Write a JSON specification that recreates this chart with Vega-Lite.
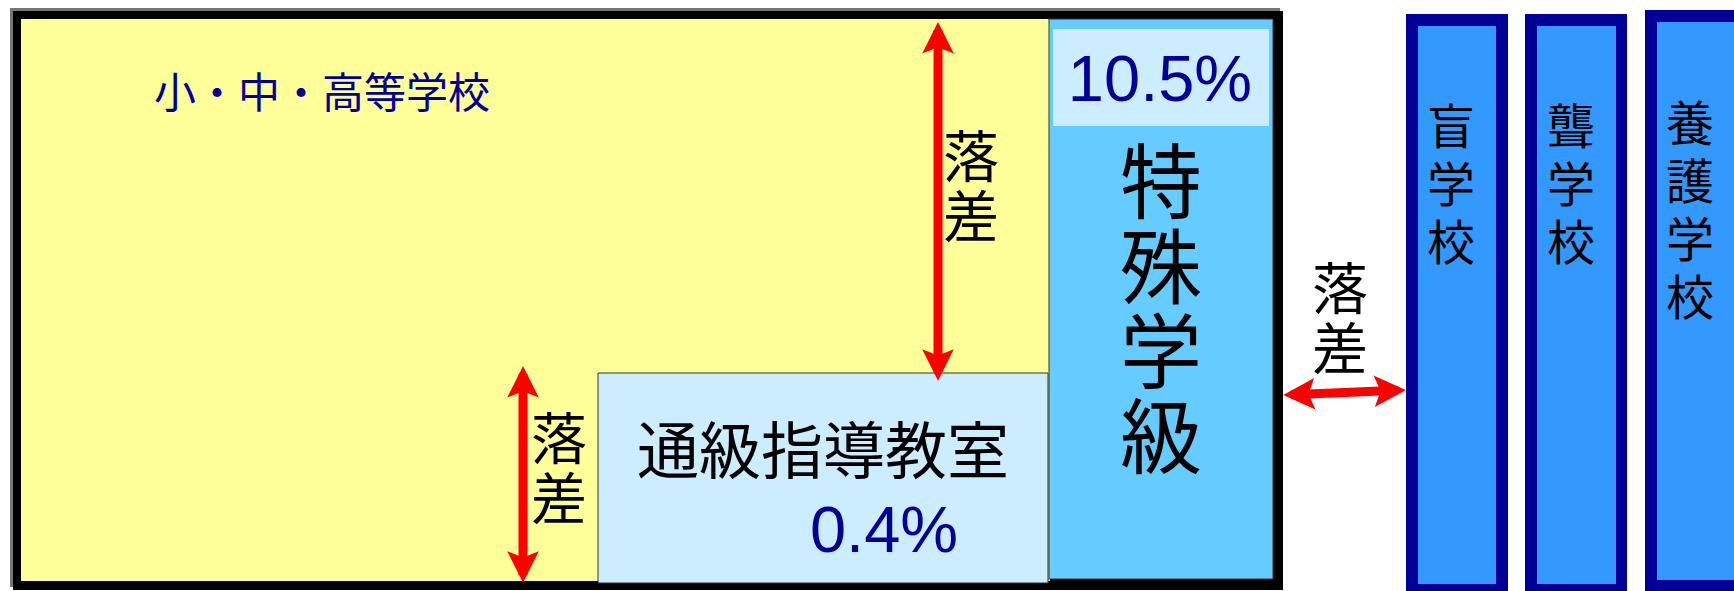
{
  "$schema": "https://vega.github.io/schema/vega-lite/v6.json",
  "width": 1734,
  "height": 591,
  "autosize": {"type": "fit", "contains": "padding"},
  "padding": 0,
  "background": "#ffffff",
  "config": {"view": {"stroke": null}, "text": {"font": "Noto Sans CJK JP"}},
  "encoding": {
    "x": {"field": "x", "type": "quantitative", "scale": {"domain": [0, 1734], "nice": false, "zero": false}, "axis": null},
    "y": {"field": "y", "type": "quantitative", "scale": {"domain": [0, 591], "nice": false, "zero": false, "reverse": true}, "axis": null}
  },
  "layer": [
    {
      "data": {"values": [{"part": "frame shadow", "x": 10, "x2": 1280, "y": 8, "y2": 587}]},
      "mark": {"type": "rect", "fill": "#777777"},
      "encoding": {"x2": {"field": "x2"}, "y2": {"field": "y2"}}
    },
    {
      "data": {"values": [{"part": "frame", "x": 13, "x2": 1283, "y": 11, "y2": 590}]},
      "mark": {"type": "rect", "fill": "#000000"},
      "encoding": {"x2": {"field": "x2"}, "y2": {"field": "y2"}}
    },
    {
      "data": {"values": [{"part": "小・中・高等学校", "x": 21, "x2": 1050, "y": 19, "y2": 581}]},
      "mark": {"type": "rect", "fill": "#FFFF99"},
      "encoding": {"x2": {"field": "x2"}, "y2": {"field": "y2"}}
    },
    {
      "data": {"values": [{"part": "特殊学級", "x": 1049, "x2": 1273, "y": 19, "y2": 579}]},
      "mark": {"type": "rect", "fill": "#66CCFF", "stroke": "#333333", "strokeWidth": 1},
      "encoding": {"x2": {"field": "x2"}, "y2": {"field": "y2"}}
    },
    {
      "data": {"values": [{"part": "10.5%", "x": 1053, "x2": 1269, "y": 29, "y2": 126}]},
      "mark": {"type": "rect", "fill": "#CCECFF"},
      "encoding": {"x2": {"field": "x2"}, "y2": {"field": "y2"}}
    },
    {
      "data": {"values": [{"part": "通級指導教室", "x": 598, "x2": 1048, "y": 373, "y2": 583}]},
      "mark": {"type": "rect", "fill": "#CCECFF", "stroke": "#333333", "strokeWidth": 1},
      "encoding": {"x2": {"field": "x2"}, "y2": {"field": "y2"}}
    },
    {
      "data": {"values": [
        {"part": "盲学校", "x": 1406, "x2": 1508, "y": 14, "y2": 591},
        {"part": "聾学校", "x": 1525, "x2": 1627, "y": 14, "y2": 591},
        {"part": "養護学校", "x": 1645, "x2": 1734, "y": 10, "y2": 591}
      ]},
      "mark": {"type": "rect", "fill": "#000099"},
      "encoding": {"x2": {"field": "x2"}, "y2": {"field": "y2"}}
    },
    {
      "data": {"values": [
        {"part": "盲学校", "x": 1418, "x2": 1496, "y": 26, "y2": 584},
        {"part": "聾学校", "x": 1537, "x2": 1616, "y": 26, "y2": 584},
        {"part": "養護学校", "x": 1657, "x2": 1734, "y": 22, "y2": 580}
      ]},
      "mark": {"type": "rect", "fill": "#3399FF"},
      "encoding": {"x2": {"field": "x2"}, "y2": {"field": "y2"}}
    },
    {
      "data": {"values": [
        {"arrow": "top", "x": 938, "y": 30, "x2": 938, "y2": 372},
        {"arrow": "left", "x": 523, "y": 374, "x2": 523, "y2": 575},
        {"arrow": "middle", "x": 1291, "y": 394.7, "x2": 1398, "y2": 390.3}
      ]},
      "mark": {"type": "rule", "color": "#FF0000", "strokeWidth": 9},
      "encoding": {"x2": {"field": "x2"}, "y2": {"field": "y2"}}
    },
    {
      "data": {"values": [{"arrow": "top", "x": 938, "y": 37.8}, {"arrow": "left", "x": 523, "y": 381.8}]},
      "mark": {"type": "point", "shape": "M0,-1L1,1L0,0.6L-1,1Z", "filled": true, "color": "#FF0000", "opacity": 1, "size": 1000, "angle": 0, "strokeWidth": 0}
    },
    {
      "data": {"values": [{"arrow": "top", "x": 938, "y": 365}, {"arrow": "left", "x": 523, "y": 567}]},
      "mark": {"type": "point", "shape": "M0,-1L1,1L0,0.6L-1,1Z", "filled": true, "color": "#FF0000", "opacity": 1, "size": 1000, "angle": 180, "strokeWidth": 0}
    },
    {
      "data": {"values": [{"arrow": "middle", "x": 1390, "y": 390.6}]},
      "mark": {"type": "point", "shape": "M0,-1L1,1L0,0.6L-1,1Z", "filled": true, "color": "#FF0000", "opacity": 1, "size": 1000, "angle": 87.7, "strokeWidth": 0}
    },
    {
      "data": {"values": [{"arrow": "middle", "x": 1299, "y": 394.4}]},
      "mark": {"type": "point", "shape": "M0,-1L1,1L0,0.6L-1,1Z", "filled": true, "color": "#FF0000", "opacity": 1, "size": 1000, "angle": 267.7, "strokeWidth": 0}
    },
    {
      "data": {"values": [{"label": "小・中・高等学校", "x": 322, "y": 95}]},
      "mark": {"type": "text", "fontSize": 42, "color": "#000099", "align": "center", "baseline": "middle"},
      "encoding": {"text": {"field": "label"}}
    },
    {
      "data": {"values": [{"label": "10.5%", "x": 1160, "y": 81}, {"label": "0.4%", "x": 884, "y": 532}]},
      "mark": {"type": "text", "font": "Liberation Sans", "fontSize": 65, "color": "#000099", "align": "center", "baseline": "middle"},
      "encoding": {"text": {"field": "label"}}
    },
    {
      "data": {"values": [{"label": "特\n殊\n学\n級", "x": 1161, "y": 187}]},
      "mark": {"type": "text", "fontSize": 82, "lineHeight": 85, "lineBreak": "\n", "color": "#000000", "align": "center", "baseline": "middle"},
      "encoding": {"text": {"field": "label"}}
    },
    {
      "data": {"values": [
        {"label": "落\n差", "x": 971, "y": 160},
        {"label": "落\n差", "x": 559, "y": 442},
        {"label": "落\n差", "x": 1340, "y": 292}
      ]},
      "mark": {"type": "text", "fontSize": 56, "lineHeight": 60, "lineBreak": "\n", "color": "#000000", "align": "center", "baseline": "middle"},
      "encoding": {"text": {"field": "label"}}
    },
    {
      "data": {"values": [{"label": "通級指導教室", "x": 823, "y": 455}]},
      "mark": {"type": "text", "fontSize": 62, "color": "#000000", "align": "center", "baseline": "middle"},
      "encoding": {"text": {"field": "label"}}
    },
    {
      "data": {"values": [
        {"label": "盲\n学\n校", "x": 1451, "y": 130},
        {"label": "聾\n学\n校", "x": 1571, "y": 130},
        {"label": "養\n護\n学\n校", "x": 1690, "y": 127}
      ]},
      "mark": {"type": "text", "fontSize": 48, "lineHeight": 58, "lineBreak": "\n", "color": "#000000", "align": "center", "baseline": "middle"},
      "encoding": {"text": {"field": "label"}}
    }
  ]
}
